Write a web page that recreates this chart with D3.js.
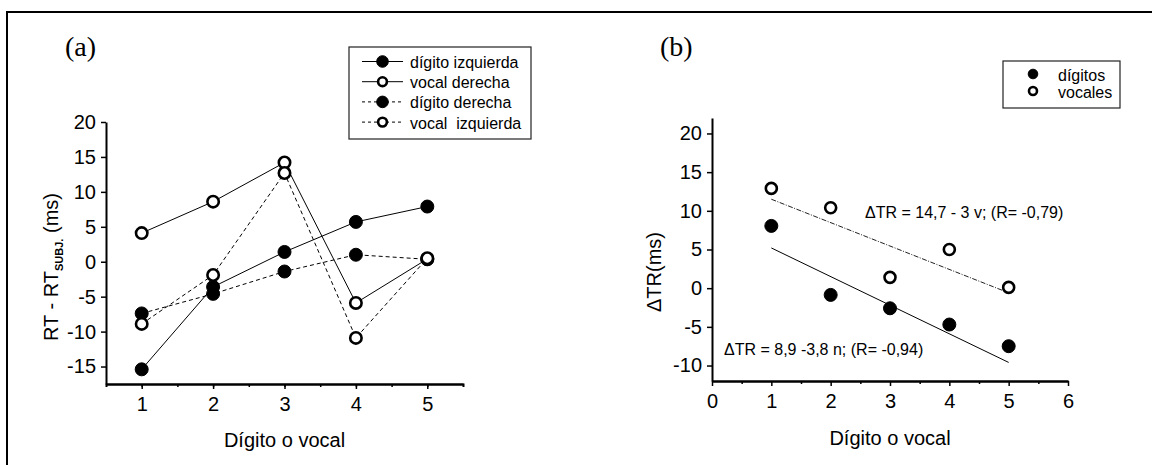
<!DOCTYPE html>
<html>
<head>
<meta charset="utf-8">
<script src="https://cdn.jsdelivr.net/npm/d3@7"></script>
<style>
  body { margin: 0; background: #fff; }
  svg text { font-family: "Liberation Sans", Arial, sans-serif; fill: #000; }
  .axis path, .axis line { stroke: #000; }
</style>
</head>
<body>
<div id="chart"></div>
<script>
// panel (a): RT - RT_subj by digit/vowel position
var posiciones = [1, 2, 3, 4, 5];
var digitoIzquierda = [-15.4, -3.6, 1.4, 5.7, 7.9];
var vocalDerecha = [4.1, 8.6, 14.2, -5.9, 0.4];
var digitoDerecha = [-7.4, -4.6, -1.4, 1.0, 0.35];
var vocalIzquierda = [-8.9, -1.9, 12.7, -10.9, 0.5];
var ticksA_y = [-15, -10, -5, 0, 5, 10, 15, 20];

// panel (b): ΔTR per position
var digitos = [8.05, -0.87, -2.6, -4.7, -7.5];
var vocales = [12.9, 10.4, 1.4, 5.0, 0.1];
var ajusteDigitos = [[1, 5.2], [5, -9.6]];
var ajusteVocales = [[1, 11.5], [5, -0.6]];
var ticksB_x = [0, 1, 2, 3, 4, 5, 6];
var ticksB_y = [-10, -5, 0, 5, 10, 15, 20];

var W = 1152, H = 465;

// plain hyphen for negatives, like the original
var fmt = function (d) { return String(d); };

var svg = d3.select("#chart").append("svg")
    .attr("width", W)
    .attr("height", H);

// outer frame (top and left only)
svg.append("line").attr("x1", 7).attr("x2", W).attr("y1", 12).attr("y2", 12)
    .attr("stroke", "#000").attr("stroke-width", 2);
svg.append("line").attr("x1", 7).attr("x2", 7).attr("y1", 11).attr("y2", H)
    .attr("stroke", "#000").attr("stroke-width", 2);

function styleAxis(g) {
    g.attr("class", "axis");
    g.select(".domain").attr("stroke-width", 2);
    g.selectAll(".tick line").attr("stroke-width", 1.5);
    g.selectAll(".tick text")
        .attr("font-size", "20px")
        .attr("font-family", "'Liberation Sans', Arial, sans-serif");
}

function marker(g, x, y, filled, r) {
    g.append("circle")
        .attr("cx", x).attr("cy", y)
        .attr("r", filled ? r : r - 0.8)
        .attr("fill", filled ? "#000" : "#fff")
        .attr("stroke", "#000")
        .attr("stroke-width", filled ? 1 : 2.6);
}

// ---------------- panel (a) ----------------
var xa = d3.scaleLinear().domain([0.5, 5.5]).range([106, 463]);
var ya = d3.scaleLinear().domain([-17.5, 20]).range([384, 122]);

svg.append("g")
    .attr("transform", "translate(0,384)")
    .call(d3.axisBottom(xa).tickValues([1, 1.5, 2, 2.5, 3, 3.5, 4, 4.5, 5]).tickFormat("").tickSize(3).tickSizeOuter(0))
    .call(styleAxis);
svg.append("g")
    .attr("transform", "translate(0,384)")
    .call(d3.axisBottom(xa).tickValues(posiciones).tickFormat(fmt).tickSize(5).tickPadding(8).tickSizeOuter(3))
    .call(styleAxis);

svg.append("g")
    .attr("transform", "translate(106,0)")
    .call(d3.axisLeft(ya).tickValues(ticksA_y).tickFormat(fmt).tickSize(5).tickPadding(5).tickSizeOuter(0))
    .call(styleAxis);

var seriesA = [
    { name: "dígito izquierda", values: digitoIzquierda, filled: true, dash: null },
    { name: "vocal derecha", values: vocalDerecha, filled: false, dash: null },
    { name: "dígito derecha", values: digitoDerecha, filled: true, dash: "4,3" },
    { name: "vocal  izquierda", values: vocalIzquierda, filled: false, dash: "4,3" }
];

var lineA = d3.line()
    .x(function (d, i) { return xa(posiciones[i]); })
    .y(function (d) { return ya(d); });

var gA = svg.append("g");
seriesA.forEach(function (s) {
    gA.append("path")
        .attr("d", lineA(s.values))
        .attr("fill", "none")
        .attr("stroke", "#000")
        .attr("stroke-width", 1)
        .attr("stroke-dasharray", s.dash);
});
seriesA.forEach(function (s) {
    s.values.forEach(function (v, i) {
        marker(gA, xa(posiciones[i]), ya(v), s.filled, 6.5);
    });
});

svg.append("text")
    .attr("x", 284.5).attr("y", 447)
    .attr("text-anchor", "middle")
    .attr("font-size", "20px")
    .text("Dígito o vocal");

var yLabA = svg.append("text")
    .attr("transform", "translate(58,267) rotate(-90)")
    .attr("text-anchor", "middle")
    .attr("font-size", "20px");
yLabA.append("tspan").text("RT - RT");
yLabA.append("tspan").attr("font-size", "11px").attr("font-weight", "bold").attr("dy", 5).text("SUBJ.");
yLabA.append("tspan").attr("dy", -5).text(" (ms)");

svg.append("text")
    .attr("x", 65).attr("y", 56)
    .style("font-family", "'Liberation Serif', 'Times New Roman', serif")
    .attr("font-size", "28px")
    .text("(a)");

// legend (a)
var legA = svg.append("g");
legA.append("rect")
    .attr("x", 349).attr("y", 47).attr("width", 182).attr("height", 92)
    .attr("fill", "#fff").attr("stroke", "#222").attr("stroke-width", 1.2);
seriesA.forEach(function (s, i) {
    var cy = 61.5 + i * 20.2;
    legA.append("line")
        .attr("x1", 362).attr("x2", 403).attr("y1", cy).attr("y2", cy)
        .attr("stroke", "#000").attr("stroke-width", 1)
        .attr("stroke-dasharray", s.dash ? "3,3" : null);
    marker(legA, 382.5, cy, s.filled, s.filled ? 5.8 : 5.2);
    legA.append("text")
        .attr("x", 410).attr("y", cy + 6.5)
        .attr("font-size", "16px")
        .style("white-space", "pre")
        .text(s.name);
});

// ---------------- panel (b) ----------------
var xb = d3.scaleLinear().domain([0, 6]).range([712, 1068]);
var yb = d3.scaleLinear().domain([-12, 22]).range([381, 118]);

svg.append("g")
    .attr("transform", "translate(0,381)")
    .call(d3.axisBottom(xb).tickValues([0.5, 1.5, 2.5, 3.5, 4.5, 5.5]).tickFormat("").tickSize(3).tickSizeOuter(0))
    .call(styleAxis);
svg.append("g")
    .attr("transform", "translate(0,381)")
    .call(d3.axisBottom(xb).tickValues(ticksB_x).tickFormat(fmt).tickSize(5).tickPadding(8).tickSizeOuter(0))
    .call(styleAxis);

svg.append("g")
    .attr("transform", "translate(712,0)")
    .call(d3.axisLeft(yb).tickValues(ticksB_y).tickFormat(fmt).tickSize(5).tickPadding(5).tickSizeOuter(0))
    .call(styleAxis);

var lineB = d3.line()
    .x(function (d) { return xb(d[0]); })
    .y(function (d) { return yb(d[1]); });

var gB = svg.append("g");
gB.append("path")
    .attr("d", lineB(ajusteDigitos))
    .attr("fill", "none").attr("stroke", "#000").attr("stroke-width", 1);
gB.append("path")
    .attr("d", lineB(ajusteVocales))
    .attr("fill", "none").attr("stroke", "#222").attr("stroke-width", 1)
    .attr("stroke-dasharray", "5,1.5,1,1.5");

digitos.forEach(function (v, i) { marker(gB, xb(posiciones[i]), yb(v), true, 6.5); });
vocales.forEach(function (v, i) { marker(gB, xb(posiciones[i]), yb(v), false, 6.3); });

svg.append("text")
    .attr("x", 865).attr("y", 218)
    .attr("font-size", "16px")
    .text("ΔTR = 14,7 - 3 v; (R= -0,79)");
svg.append("text")
    .attr("x", 724).attr("y", 355)
    .attr("font-size", "16px")
    .text("ΔTR = 8,9 -3,8 n; (R= -0,94)");

svg.append("text")
    .attr("x", 890).attr("y", 445)
    .attr("text-anchor", "middle")
    .attr("font-size", "20px")
    .text("Dígito o vocal");

svg.append("text")
    .attr("transform", "translate(661,272) rotate(-90)")
    .attr("text-anchor", "middle")
    .attr("font-size", "20px")
    .text("ΔTR(ms)");

svg.append("text")
    .attr("x", 660).attr("y", 56)
    .style("font-family", "'Liberation Serif', 'Times New Roman', serif")
    .attr("font-size", "28px")
    .text("(b)");

// legend (b)
var legB = svg.append("g");
legB.append("rect")
    .attr("x", 1003).attr("y", 61).attr("width", 117).attr("height", 47)
    .attr("fill", "#fff").attr("stroke", "#222").attr("stroke-width", 1.2);
[{ name: "dígitos", filled: true }, { name: "vocales", filled: false }].forEach(function (s, i) {
    var cy = 75 + i * 17;
    marker(legB, 1033, cy - 1, s.filled, 4.8);
    legB.append("text")
        .attr("x", 1058).attr("y", cy + 5.5)
        .attr("font-size", "16px")
        .text(s.name);
});
</script>
</body>
</html>
